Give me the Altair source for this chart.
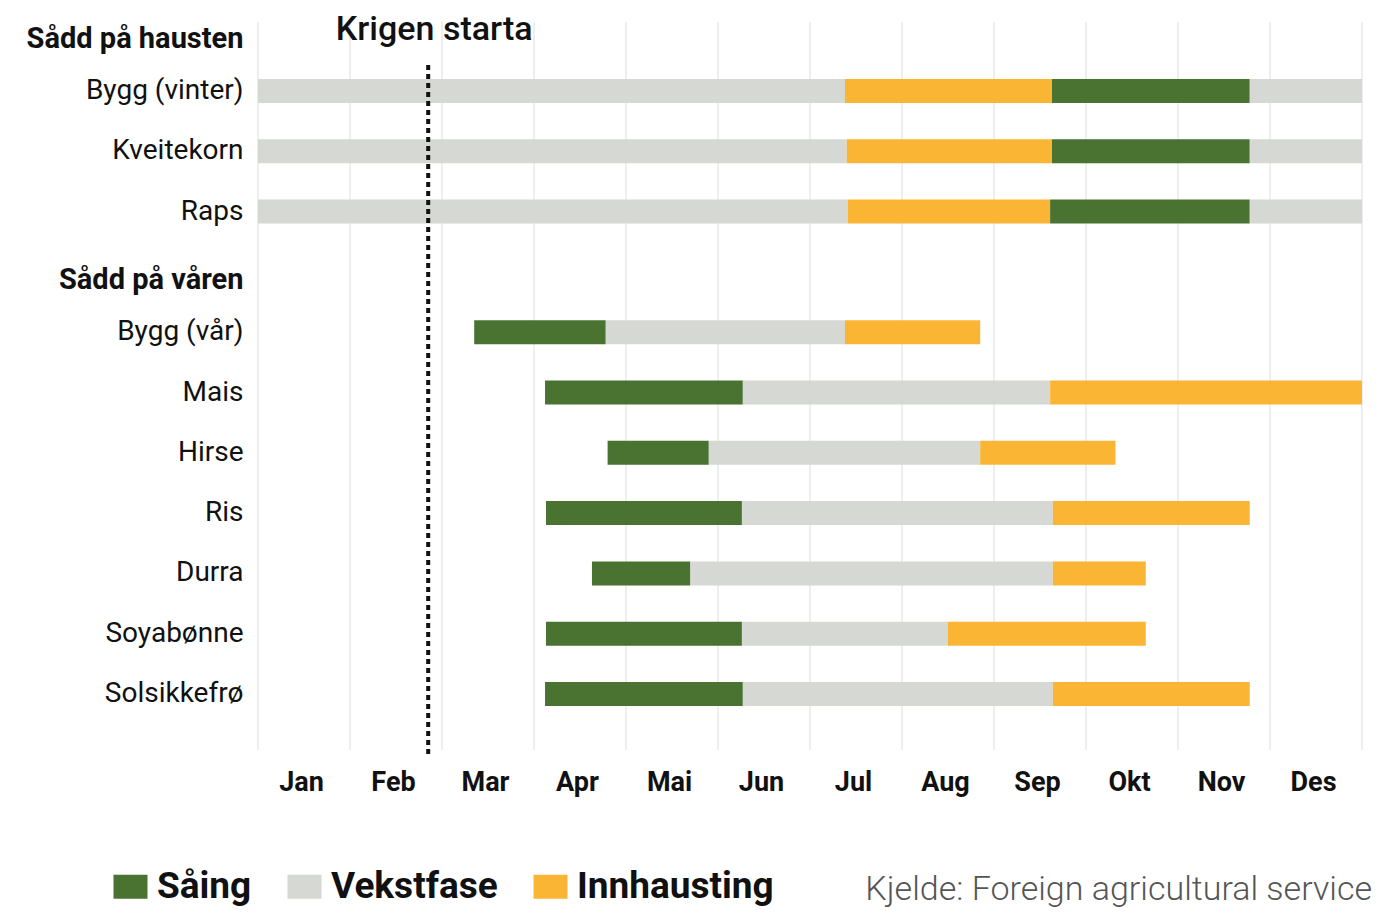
import altair as alt
import pandas as pd

# ---------------- data ----------------
rows = ["Sådd på hausten", "Bygg (vinter)", "Kveitekorn", "Raps",
        "Sådd på våren", "Bygg (vår)", "Mais", "Hirse", "Ris", "Durra",
        "Soyabønne", "Solsikkefrø"]
headers = ["Sådd på hausten", "Sådd på våren"]
months = ["Jan", "Feb", "Mar", "Apr", "Mai", "Jun", "Jul", "Aug", "Sep",
          "Okt", "Nov", "Des"]
month_edges = [0, 1, 2, 3, 4, 5, 6, 7, 8, 9, 10, 11, 12]
phases = ["Såing", "Vekstfase", "Innhausting"]
phase_colors = ["#4a7230", "#d5d8d3", "#fbb534"]

# segments (month units, 0 = 1 Jan, 12 = 31 Des)
seg_crop = ["Bygg (vinter)"] * 4 + ["Kveitekorn"] * 4 + ["Raps"] * 4 + \
           ["Bygg (vår)"] * 3 + ["Mais"] * 3 + ["Hirse"] * 3 + ["Ris"] * 3 + \
           ["Durra"] * 3 + ["Soyabønne"] * 3 + ["Solsikkefrø"] * 3
seg_phase = ["Vekstfase", "Innhausting", "Såing", "Vekstfase"] * 3 + \
            ["Såing", "Vekstfase", "Innhausting"] * 7
seg_start = [0.00, 6.38, 8.63, 10.78,
             0.00, 6.40, 8.63, 10.78,
             0.00, 6.41, 8.61, 10.78,
             2.35, 3.78, 6.38,
             3.12, 5.27, 8.61,
             3.80, 4.90, 7.85,
             3.13, 5.26, 8.64,
             3.63, 4.70, 8.64,
             3.13, 5.26, 7.50,
             3.12, 5.27, 8.64]
seg_end = [6.38, 8.63, 10.78, 12.00,
           6.40, 8.63, 10.78, 12.00,
           6.41, 8.61, 10.78, 12.00,
           3.78, 6.38, 7.85,
           5.27, 8.61, 12.00,
           4.90, 7.85, 9.32,
           5.26, 8.64, 10.78,
           4.70, 8.64, 9.65,
           5.26, 7.50, 9.65,
           5.27, 8.64, 10.78]

war_start = [1.85]
war_label = ["Krigen starta"]
source = ["Kjelde: Foreign agricultural service"]

# ---------------- chart ----------------
FONT = "Roboto"
W, H = 1104, 728

segments = pd.DataFrame({"crop": seg_crop, "phase": seg_phase,
                         "start": seg_start, "end": seg_end})
edges_df = pd.DataFrame({"x": month_edges})
war_df = pd.DataFrame({"x": war_start, "label": war_label})
src_df = pd.DataFrame({"label": source})

header_test = "datum.value == 'Sådd på hausten' || datum.value == 'Sådd på våren'"
month_expr = "[" + ",".join("'" + m + "'" for m in months) + ",''][datum.value]"

x_scale = alt.Scale(domain=[0, 12], nice=False, zero=False)

grid = alt.Chart(edges_df).mark_rule(color="#e8e8e8", strokeWidth=1.5).encode(
    x=alt.X("x:Q", scale=x_scale,
            axis=alt.Axis(values=month_edges, labelExpr=month_expr,
                          labelOffset=43, labelFlush=False, labelOverlap=False,
                          grid=False, ticks=False, domain=False,
                          labelFontSize=27, labelFontWeight="bold",
                          labelFont=FONT, labelColor="#111",
                          labelPadding=19, title=None)),
    y=alt.value(0), y2=alt.value(H),
)

bars = alt.Chart(segments).mark_bar(size=24).encode(
    x=alt.X("start:Q", scale=x_scale),
    x2="end:Q",
    y=alt.Y("crop:N",
            scale=alt.Scale(domain=rows, range=[-21.45, 702.15],
                            paddingInner=0, paddingOuter=0),
            axis=alt.Axis(ticks=False, domain=False, grid=False, title=None,
                          labelFont=FONT, labelColor="#111",
                          labelFontSize={"condition": {"test": header_test, "value": 29}, "value": 28},
                          labelFontWeight={"condition": {"test": header_test, "value": "bold"}, "value": "normal"},
                          labelOffset={"condition": {"test": header_test, "value": 8}, "value": 0},
                          labelPadding=15, labelLimit=400)),
    color=alt.Color("phase:N",
                    scale=alt.Scale(domain=phases, range=phase_colors),
                    legend=alt.Legend(orient="none", legendX=-146, legendY=846,
                                      direction="horizontal", title=None,
                                      symbolType="M-1,-0.7H1V0.7H-1Z",
                                      symbolSize=1156, symbolStrokeWidth=0,
                                      symbolOpacity=1,
                                      labelFont=FONT, labelFontSize=37,
                                      labelFontWeight="bold", labelColor="#111",
                                      labelOffset=8, columnPadding=34,
                                      labelLimit=400)),
)

war_rule = alt.Chart(war_df).mark_rule(
    color="#111", strokeWidth=4, strokeDash=[5, 4]
).encode(
    x=alt.X("x:Q", scale=x_scale),
    y=alt.value(43), y2=alt.value(735),
)

war_text = alt.Chart(war_df).mark_text(
    font=FONT, fontSize=34, fontWeight=500, color="#111",
    baseline="alphabetic", align="center", dx=6
).encode(
    x=alt.X("x:Q", scale=x_scale),
    y=alt.value(18),
    text="label:N",
)

src_text = alt.Chart(src_df).mark_text(
    font=FONT, fontSize=34, fontWeight=300, color="#555",
    baseline="alphabetic", align="right"
).encode(
    x=alt.value(1114), y=alt.value(878), text="label:N",
)

chart = alt.layer(grid, bars, war_rule, war_text, src_text).properties(
    width=W, height=H,
    background="white",
    autosize=alt.AutoSizeParams(type="none"),
    padding={"left": 250, "top": 14, "right": 20, "bottom": 160},
).configure_view(stroke=None)

chart.save("out.html", embed_options={"renderer": "svg", "actions": False})
